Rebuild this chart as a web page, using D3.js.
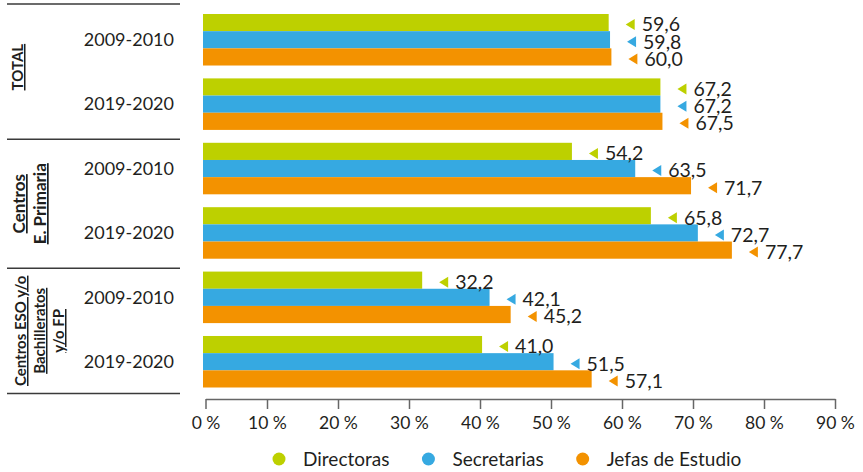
<!DOCTYPE html>
<html>
<head>
<meta charset="utf-8">
<script src="https://cdn.jsdelivr.net/npm/d3@7"></script>
<style>
  html, body { margin: 0; padding: 0; background: #fff; }
  svg { display: block; font-family: Lato, "Open Sans", sans-serif; }
</style>
</head>
<body>
<svg id="chart" width="863" height="472"></svg>
<script>
// ---- data ----
const sections = ["TOTAL", "Centros E. Primaria", "Centros ESO y/o Bachilleratos y/o FP"];
const sectionLines = [["TOTAL"], ["Centros", "E. Primaria"], ["Centros ESO y/o", "Bachilleratos", "y/o FP"]];
const years = ["2009-2010", "2019-2020"];
const series = ["Directoras", "Secretarias", "Jefas de Estudio"];
const directoras = [59.6, 67.2, 54.2, 65.8, 32.2, 41.0];
const secretarias = [59.8, 67.2, 63.5, 72.7, 42.1, 51.5];
const jefas = [60.0, 67.5, 71.7, 77.7, 45.2, 57.1];
const tickValues = [0, 10, 20, 30, 40, 50, 60, 70, 80, 90];
const tickLabels = ["0 %", "10 %", "20 %", "30 %", "40 %", "50 %", "60 %", "70 %", "80 %", "90 %"];

// ---- styles ----
const colors = ["#bdd000", "#36a9e1", "#f39200"];
const textColor = "#1f1f1d";

const svg = d3.select("#chart");

const groups = [];
sections.forEach((s, si) => years.forEach((yv, yi) => groups.push({ id: si + "_" + yi, si, year: yv })));
const values = [directoras, secretarias, jefas];

// scales
const y = d3.scaleBand().domain(groups.map(g => g.id)).range([14, 387.5]).paddingInner(0.2).paddingOuter(0);
const ySeries = d3.scaleBand().domain(series).range([0, y.bandwidth()]).padding(0);
const xBar = d3.scaleLinear().domain([0, 90]).range([203, 815.6]);
const xAxis = d3.scaleLinear().domain([0, 10, 90]).range([205.5, 267, 835]);

const fmt = d3.formatLocale({ decimal: ",", thousands: ".", grouping: [3], currency: ["", "€"] }).format(".1f");

// bars
const barData = [];
groups.forEach((g, gi) => series.forEach((s, k) => barData.push({ g, s, k, v: values[k][gi] })));

svg.append("g").selectAll("rect").data(barData).join("rect")
  .attr("x", xBar(0))
  .attr("y", d => y(d.g.id) + ySeries(d.s))
  .attr("width", d => xBar(d.v) - xBar(0))
  .attr("height", ySeries.bandwidth())
  .attr("fill", d => colors[d.k]);

// value labels with triangle markers
const lab = svg.append("g").selectAll("g").data(barData).join("g")
  .attr("transform", d => `translate(${xBar(d.v)},${y(d.g.id) + ySeries(d.s) + ySeries.bandwidth() / 2 + 2})`);
lab.append("path")
  .attr("d", "M17,0 L26,-5.5 L26,5.5 Z")
  .attr("fill", d => colors[d.k]);
lab.append("text")
  .attr("x", 33)
  .attr("dy", "0.35em")
  .attr("font-size", 19.5)
  .attr("fill", textColor)
  .text(d => fmt(d.v));

// year labels
svg.append("g").selectAll("text").data(groups).join("text")
  .attr("x", 174)
  .attr("y", d => y(d.id) + y.bandwidth() / 2)
  .attr("dy", "0.35em")
  .attr("text-anchor", "end")
  .attr("font-size", 18)
  .attr("fill", textColor)
  .text(d => d.year);

// section separators
const sepYs = [y(groups[0].id) - 10];
for (let si = 1; si < sections.length; si++) {
  const prevEnd = y(groups[si * 2 - 1].id) + y.bandwidth();
  const nextStart = y(groups[si * 2].id);
  sepYs.push((prevEnd + nextStart) / 2 + 3);
}
sepYs.push(y(groups[groups.length - 1].id) + y.bandwidth() + 6);
svg.append("g").selectAll("line").data(sepYs).join("line")
  .attr("x1", 7).attr("x2", 180)
  .attr("y1", d => d).attr("y2", d => d)
  .attr("stroke", "#3a3a3a").attr("stroke-width", 1.5);

// section labels (rotated)
const secFont = [15, 17, 15];
const secX = [[23], [25, 46], [26, 45, 64]];
sectionLines.forEach((lines, si) => {
  const cy = si === 0 ? (sepYs[0] + sepYs[1]) / 2 - 4.5 : (sepYs[si] + sepYs[si + 1]) / 2;
  lines.forEach((ln, li) => {
    svg.append("text")
      .attr("transform", `translate(${secX[si][li]},${cy}) rotate(-90)`)
      .attr("text-anchor", "middle")
      .attr("font-size", secFont[si])
      .attr("font-weight", "bold")
      .attr("text-decoration", "underline")
      .attr("fill", textColor)
      .text(ln);
  });
});

// axis
const axis = svg.append("g")
  .attr("transform", "translate(0,399)")
  .call(d3.axisBottom(xAxis).tickValues(tickValues).tickSizeInner(10).tickSizeOuter(0)
    .tickPadding(8).tickFormat((d, i) => tickLabels[i]));
axis.select(".domain").attr("stroke", "#666").attr("stroke-width", 1.5);
axis.selectAll(".tick line").attr("stroke", "#666").attr("stroke-width", 1.5);
axis.selectAll(".tick text").attr("font-size", 17.5).attr("fill", textColor)
  .attr("font-family", "Lato, 'Open Sans', sans-serif");

// legend
const legend = svg.append("g").attr("transform", "translate(0,459)");
let lx = 279;
series.forEach((s, k) => {
  legend.append("circle").attr("cx", lx).attr("cy", 0).attr("r", 6.5).attr("fill", colors[k]);
  const t = legend.append("text").attr("x", lx + 24).attr("dy", "0.35em")
    .attr("font-size", 19).attr("fill", textColor).text(s);
  lx = lx + 24 + t.node().getComputedTextLength() + 39;
});
</script>
</body>
</html>
